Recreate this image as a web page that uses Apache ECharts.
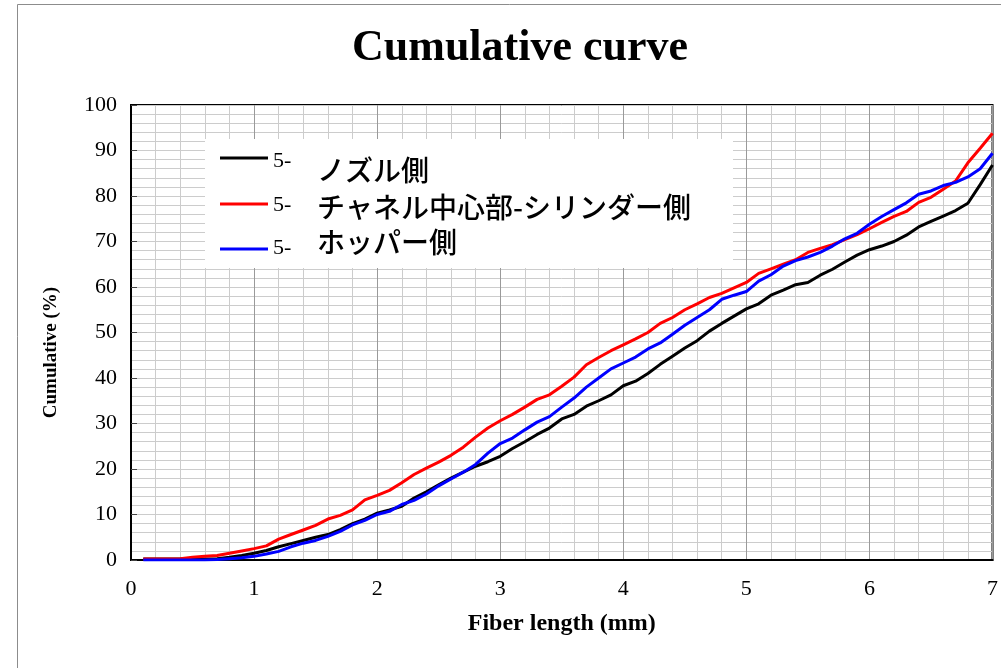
<!DOCTYPE html>
<html>
<head>
<meta charset="utf-8">
<script src="https://cdn.jsdelivr.net/npm/echarts@6/dist/echarts.min.js"></script>
<style>
  html, body { margin: 0; padding: 0; background: #fff; }
  #chart { width: 1001px; height: 668px; }
</style>
</head>
<body>
<div id="chart"></div>
<script>
// Fiber length (mm) sample points
const fiberLength = [
  0.1, 0.2, 0.3, 0.4, 0.5, 0.6, 0.7, 0.8, 0.9, 1.0,
  1.1, 1.2, 1.3, 1.4, 1.5, 1.6, 1.7, 1.8, 1.9, 2.0,
  2.1, 2.2, 2.3, 2.4, 2.5, 2.6, 2.7, 2.8, 2.9, 3.0,
  3.1, 3.2, 3.3, 3.4, 3.5, 3.6, 3.7, 3.8, 3.9, 4.0,
  4.1, 4.2, 4.3, 4.4, 4.5, 4.6, 4.7, 4.8, 4.9, 5.0,
  5.1, 5.2, 5.3, 5.4, 5.5, 5.6, 5.7, 5.8, 5.9, 6.0,
  6.1, 6.2, 6.3, 6.4, 6.5, 6.6, 6.7, 6.8, 6.9, 7.0
];

// Cumulative (%) — nozzle side
const nozzleSide = [
  0.2, 0.2, 0.2, 0.2, 0.2, 0.2, 0.3, 0.6, 1.0, 1.5,
  2.1, 2.9, 3.6, 4.3, 5.0, 5.6, 6.7, 8.0, 9.0, 10.3,
  11.0, 11.8, 13.6, 15.0, 16.5, 18.0, 19.3, 20.6, 21.6, 22.8,
  24.5, 26.0, 27.6, 29.0, 31.0, 32.0, 33.8, 35.0, 36.3, 38.3,
  39.3, 41.0, 43.0, 44.8, 46.6, 48.2, 50.3, 52.0, 53.6, 55.2,
  56.3, 58.2, 59.3, 60.5, 61.0, 62.6, 63.9, 65.5, 67.0, 68.2,
  69.0, 70.0, 71.4, 73.2, 74.4, 75.6, 76.8, 78.4, 82.5, 86.8
];

// Cumulative (%) — channel centre / cylinder side
const channelCylinder = [
  0.2, 0.2, 0.2, 0.3, 0.6, 0.8, 1.0, 1.5, 2.0, 2.5,
  3.1, 4.6, 5.6, 6.6, 7.6, 9.0, 9.8, 11.0, 13.2, 14.2,
  15.3, 17.0, 18.8, 20.2, 21.5, 23.0, 24.8, 27.0, 29.0, 30.6,
  32.0, 33.6, 35.3, 36.3, 38.2, 40.2, 42.9, 44.5, 46.0, 47.3,
  48.6, 50.0, 52.0, 53.3, 55.0, 56.3, 57.7, 58.6, 59.8, 61.0,
  63.0, 64.0, 65.0, 66.0, 67.6, 68.5, 69.3, 70.4, 71.5, 72.8,
  74.2, 75.5, 76.6, 78.6, 79.7, 81.5, 83.3, 87.3, 90.5, 93.8
];

// Cumulative (%) — hopper side
const hopperSide = [
  0.0, 0.0, 0.0, 0.0, 0.0, 0.0, 0.1, 0.3, 0.5, 0.8,
  1.3, 1.9, 2.9, 3.7, 4.3, 5.2, 6.3, 7.7, 8.7, 10.0,
  10.7, 12.2, 13.1, 14.5, 16.3, 17.8, 19.3, 21.0, 23.5, 25.6,
  26.8, 28.6, 30.3, 31.5, 33.6, 35.6, 38.0, 40.0, 42.0, 43.3,
  44.6, 46.4, 47.7, 49.6, 51.6, 53.3, 55.0, 57.3, 58.2, 59.0,
  61.3, 62.7, 64.6, 65.8, 66.6, 67.6, 69.0, 70.6, 71.8, 73.8,
  75.5, 77.0, 78.5, 80.4, 81.1, 82.3, 83.0, 84.2, 86.0, 89.4
];

const seriesPrefix = '5-';
const seriesNames = ['ノズル側', 'チャネル中心部-シリンダー側', 'ホッパー側'];
const seriesColors = ['#000000', '#ff0000', '#0000ff'];
const seriesValues = [nozzleSide, channelCylinder, hopperSide];

const titleText = 'Cumulative curve';
const xAxisName = 'Fiber length (mm)';
const yAxisName = 'Cumulative (%)';

const SERIF = '"Liberation Serif", "Times New Roman", serif';
const JP = '"Noto Sans CJK JP", "Noto Sans", sans-serif';

const chart = echarts.init(document.getElementById('chart'), null, { renderer: 'canvas' });

const series = seriesValues.map((vals, i) => ({
  name: seriesPrefix + seriesNames[i],
  type: 'line',
  data: fiberLength.map((x, k) => [x, vals[k]]),
  showSymbol: false,
  smooth: false,
  lineStyle: { color: seriesColors[i], width: 3 },
  itemStyle: { color: seriesColors[i] },
  z: 3 + (i === 2 ? 1 : 0)
}));

// legend box: white panel, line samples, prefixes and names
const legendRows = [
  { lineY: 158, prefixY: 161, nameY: 170 },
  { lineY: 204, prefixY: 205, nameY: 207 },
  { lineY: 249, prefixY: 248, nameY: 242 }
];
const legendElements = [
  { type: 'rect', z: 100, silent: true,
    shape: { x: 205, y: 139, width: 528, height: 129 },
    style: { fill: '#ffffff', stroke: null } }
];
seriesNames.forEach((name, i) => {
  const r = legendRows[i];
  legendElements.push(
    { type: 'line', z: 101, silent: true,
      shape: { x1: 220, y1: r.lineY, x2: 268, y2: r.lineY },
      style: { stroke: seriesColors[i], lineWidth: 3 } },
    { type: 'text', z: 101, silent: true, x: 273, y: r.prefixY,
      style: { text: seriesPrefix, font: '22px ' + SERIF, fill: '#000',
               textAlign: 'left', textVerticalAlign: 'middle' } },
    { type: 'text', z: 101, silent: true, x: 317, y: r.nameY,
      style: { text: name, font: '500 28px ' + JP, fill: '#000',
               textAlign: 'left', textVerticalAlign: 'middle' } }
  );
});

const option = {
  backgroundColor: '#ffffff',
  animation: false,
  title: {
    text: titleText,
    left: 347,
    top: 22,
    textStyle: { fontFamily: SERIF, fontWeight: 'bold', fontSize: 44, color: '#000' }
  },
  grid: {
    left: 131, right: 7, top: 105, bottom: 108,
    show: true, borderColor: '#000', borderWidth: 2, backgroundColor: 'transparent'
  },
  xAxis: {
    type: 'value',
    min: 0, max: 7, interval: 1,
    name: xAxisName,
    nameLocation: 'middle',
    nameGap: 52,
    nameTextStyle: { fontFamily: SERIF, fontWeight: 'bold', fontSize: 24, color: '#000' },
    axisLine: { show: true, lineStyle: { color: '#000', width: 2 } },
    axisTick: { show: false },
    axisLabel: { margin: 18, fontFamily: SERIF, fontSize: 22, color: '#000' },
    splitLine: { show: true, lineStyle: { color: '#9a9a9a', width: 1 } },
    minorTick: { show: false, splitNumber: 5 },
    minorSplitLine: { show: true, lineStyle: { color: '#cccccc', width: 1 } }
  },
  yAxis: {
    type: 'value',
    min: 0, max: 100, interval: 10,
    name: yAxisName,
    nameLocation: 'middle',
    nameGap: 70,
    nameRotate: 90,
    nameTextStyle: { fontFamily: SERIF, fontWeight: 'bold', fontSize: 19, color: '#000',
                     padding: [0, 40, 0, 0] },
    axisLine: { show: true, lineStyle: { color: '#000', width: 2 } },
    axisTick: { show: true, inside: true, length: 6, lineStyle: { color: '#444', width: 1 } },
    axisLabel: { margin: 14, fontFamily: SERIF, fontSize: 22, color: '#000' },
    splitLine: { show: true, lineStyle: { color: '#cccccc', width: 1 } },
    minorTick: { show: false, splitNumber: 5 },
    minorSplitLine: { show: true, lineStyle: { color: '#cccccc', width: 1 } }
  },
  graphic: [
    { type: 'rect', z: 0, silent: true,
      shape: { x: 17.5, y: 4.5, width: 1100, height: 800 },
      style: { fill: null, stroke: '#8c8c8c', lineWidth: 1 } }
  ].concat(legendElements),
  series: series
};

chart.setOption(option);
</script>
</body>
</html>
